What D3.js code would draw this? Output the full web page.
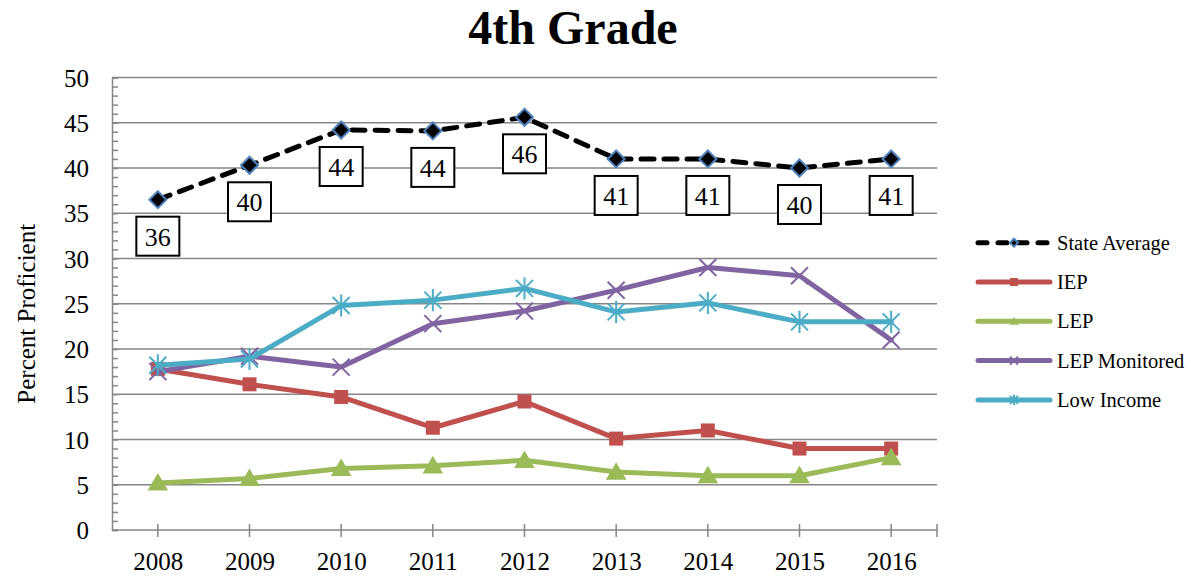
<!DOCTYPE html>
<html>
<head>
<meta charset="utf-8">
<script src="https://cdn.jsdelivr.net/npm/d3@7"></script>
<style>
  body { margin: 0; background: #fff; }
  text { font-family: "Liberation Serif", "Times New Roman", serif; fill: #000; }
</style>
</head>
<body>
<div id="chart"></div>
<script>
// data
let years = ['2008', '2009', '2010', '2011', '2012', '2013', '2014', '2015', '2016'];
let stateAverage = [36.5, 40.3, 44.2, 44.1, 45.6, 41.0, 41.0, 40.0, 41.0];
let stateLabels = ['36', '40', '44', '44', '46', '41', '41', '40', '41'];
let iep = [17.8, 16.1, 14.7, 11.3, 14.2, 10.1, 11.0, 9.0, 9.0];
let lep = [5.2, 5.7, 6.8, 7.1, 7.7, 6.4, 6.0, 6.0, 8.0];
let lepMonitored = [17.5, 19.2, 18.0, 22.8, 24.2, 26.5, 29.0, 28.1, 21.0];
let lowIncome = [18.2, 18.9, 24.8, 25.4, 26.7, 24.1, 25.1, 23.0, 23.0];
let yTicks = [0, 5, 10, 15, 20, 25, 30, 35, 40, 45, 50];

let svgWidth = 1191;
let svgHeight = 578;

let plot = { left: 112, right: 937, top: 77.5, bottom: 530 };

let svg = d3.select('#chart')
  .append('svg')
  .attr('width', svgWidth)
  .attr('height', svgHeight);

let x = d3.scalePoint()
  .domain(years)
  .range([plot.left, plot.right])
  .padding(0.5);

let y = d3.scaleLinear()
  .domain([0, 50])
  .range([plot.bottom, plot.top]);

let axisColor = '#868686';

// title
svg.append('text')
  .attr('x', 573)
  .attr('y', 44)
  .attr('text-anchor', 'middle')
  .attr('font-size', '48px')
  .attr('font-weight', 'bold')
  .text('4th Grade');

// gridlines
svg.append('g')
  .selectAll('line')
  .data(yTicks.filter(d => d > 0))
  .enter()
  .append('line')
  .attr('x1', plot.left)
  .attr('x2', plot.right)
  .attr('y1', d => y(d))
  .attr('y2', d => y(d))
  .attr('stroke', axisColor)
  .attr('stroke-width', 1.5);

// y axis with inside minor ticks
let yAxis = svg.append('g')
  .attr('transform', `translate(${plot.left}, 0)`)
  .call(d3.axisLeft(y).tickValues(d3.range(0, 51, 1)).tickSize(-6).tickFormat(''));

yAxis.selectAll('line, path').attr('stroke', axisColor).attr('stroke-width', 1.5);

svg.append('g')
  .selectAll('text')
  .data(yTicks)
  .enter()
  .append('text')
  .attr('x', 89)
  .attr('y', d => y(d) + 9)
  .attr('text-anchor', 'end')
  .attr('font-size', '25px')
  .text(d => d);

// x axis
let xAxis = svg.append('g')
  .attr('transform', `translate(0, ${plot.bottom})`)
  .call(d3.axisBottom(x).tickSize(0).tickPadding(22));

xAxis.select('.domain').remove();
xAxis.selectAll('text').attr('font-size', '25px').attr('font-family', '"Liberation Serif", serif');

svg.append('line')
  .attr('x1', plot.left)
  .attr('x2', plot.right)
  .attr('y1', plot.bottom)
  .attr('y2', plot.bottom)
  .attr('stroke', axisColor)
  .attr('stroke-width', 1.5);

svg.append('g')
  .selectAll('line')
  .data(years.map(d => x(d)).concat([plot.right]))
  .enter()
  .append('line')
  .attr('x1', d => d)
  .attr('x2', d => d)
  .attr('y1', plot.bottom - 6)
  .attr('y2', plot.bottom + 7)
  .attr('stroke', axisColor)
  .attr('stroke-width', 1.5);

svg.append('text')
  .attr('transform', `translate(35, ${(plot.top + plot.bottom) / 2 + 10}) rotate(-90)`)
  .attr('text-anchor', 'middle')
  .attr('font-size', '25px')
  .text('Percent Proficient');

// series
let series = [
  { name: 'State Average', values: stateAverage, color: '#000000', marker: 'diamond', dash: '13,10' },
  { name: 'IEP', values: iep, color: '#C0504D', marker: 'square' },
  { name: 'LEP', values: lep, color: '#9BBB59', marker: 'triangle' },
  { name: 'LEP Monitored', values: lepMonitored, color: '#8064A2', marker: 'x' },
  { name: 'Low Income', values: lowIncome, color: '#4BACC6', marker: 'star' }
];

function drawMarker(g, type, color, s) {
  if (type === 'diamond') {
    g.append('path')
      .attr('d', `M0,${-s}L${s},0L0,${s}L${-s},0Z`)
      .attr('fill', '#000')
      .attr('stroke', '#4F81BD')
      .attr('stroke-width', 2);
  }
  else if (type === 'square') {
    g.append('rect')
      .attr('x', -s).attr('y', -s)
      .attr('width', 2 * s).attr('height', 2 * s)
      .attr('fill', color);
  }
  else if (type === 'triangle') {
    g.append('path')
      .attr('d', `M0,${-s * 1.1}L${s * 1.15},${s * 0.85}L${-s * 1.15},${s * 0.85}Z`)
      .attr('fill', color);
  }
  else if (type === 'x') {
    g.append('path')
      .attr('d', `M${-s},${-s}L${s},${s}M${-s},${s}L${s},${-s}`)
      .attr('stroke', color)
      .attr('stroke-width', 2);
  }
  else {
    g.append('path')
      .attr('d', `M${-s},${-s}L${s},${s}M${-s},${s}L${s},${-s}M0,${-s * 1.3}L0,${s * 1.3}`)
      .attr('stroke', color)
      .attr('stroke-width', 2);
  }
}

let markerSize = { diamond: 8.5, square: 7, triangle: 9, x: 8.5, star: 8.5 };

let line = d3.line()
  .x((d, i) => x(years[i]))
  .y(d => y(d));

series.forEach(function(s) {
  svg.append('path')
    .datum(s.values)
    .attr('d', line)
    .attr('fill', 'none')
    .attr('stroke', s.color)
    .attr('stroke-width', 5)
    .attr('stroke-linejoin', 'round')
    .attr('stroke-linecap', 'round')
    .attr('stroke-dasharray', s.dash || null);

  s.values.forEach(function(v, i) {
    let g = svg.append('g')
      .attr('transform', `translate(${x(years[i])}, ${y(v)})`);
    drawMarker(g, s.marker, s.color, markerSize[s.marker]);
  });
});

// data labels for state average
let labels = svg.append('g')
  .selectAll('g')
  .data(stateAverage)
  .enter()
  .append('g')
  .attr('transform', (d, i) => `translate(${x(years[i])}, ${y(d) + 17})`);

labels.append('rect')
  .attr('x', -21.5)
  .attr('y', 0)
  .attr('width', 43)
  .attr('height', 39)
  .attr('fill', '#fff')
  .attr('stroke', '#000')
  .attr('stroke-width', 2);

labels.append('text')
  .attr('y', 29)
  .attr('text-anchor', 'middle')
  .attr('font-size', '26px')
  .text((d, i) => stateLabels[i]);

// legend
let legend = svg.append('g')
  .selectAll('g')
  .data(series)
  .enter()
  .append('g')
  .attr('transform', (d, i) => `translate(978, ${242.7 + i * 39.3})`);

legend.append('line')
  .attr('x1', 0)
  .attr('x2', 72)
  .attr('stroke', d => d.color)
  .attr('stroke-width', 5)
  .attr('stroke-linecap', 'round')
  .attr('stroke-dasharray', d => d.dash ? '9,11' : null);

legend.each(function(d) {
  let g = d3.select(this).append('g').attr('transform', 'translate(36, 0)');
  drawMarker(g, d.marker, d.color, 4);
});

legend.append('text')
  .attr('x', 79)
  .attr('y', 7)
  .attr('font-size', '20.5px')
  .text(d => d.name);
</script>
</body>
</html>
